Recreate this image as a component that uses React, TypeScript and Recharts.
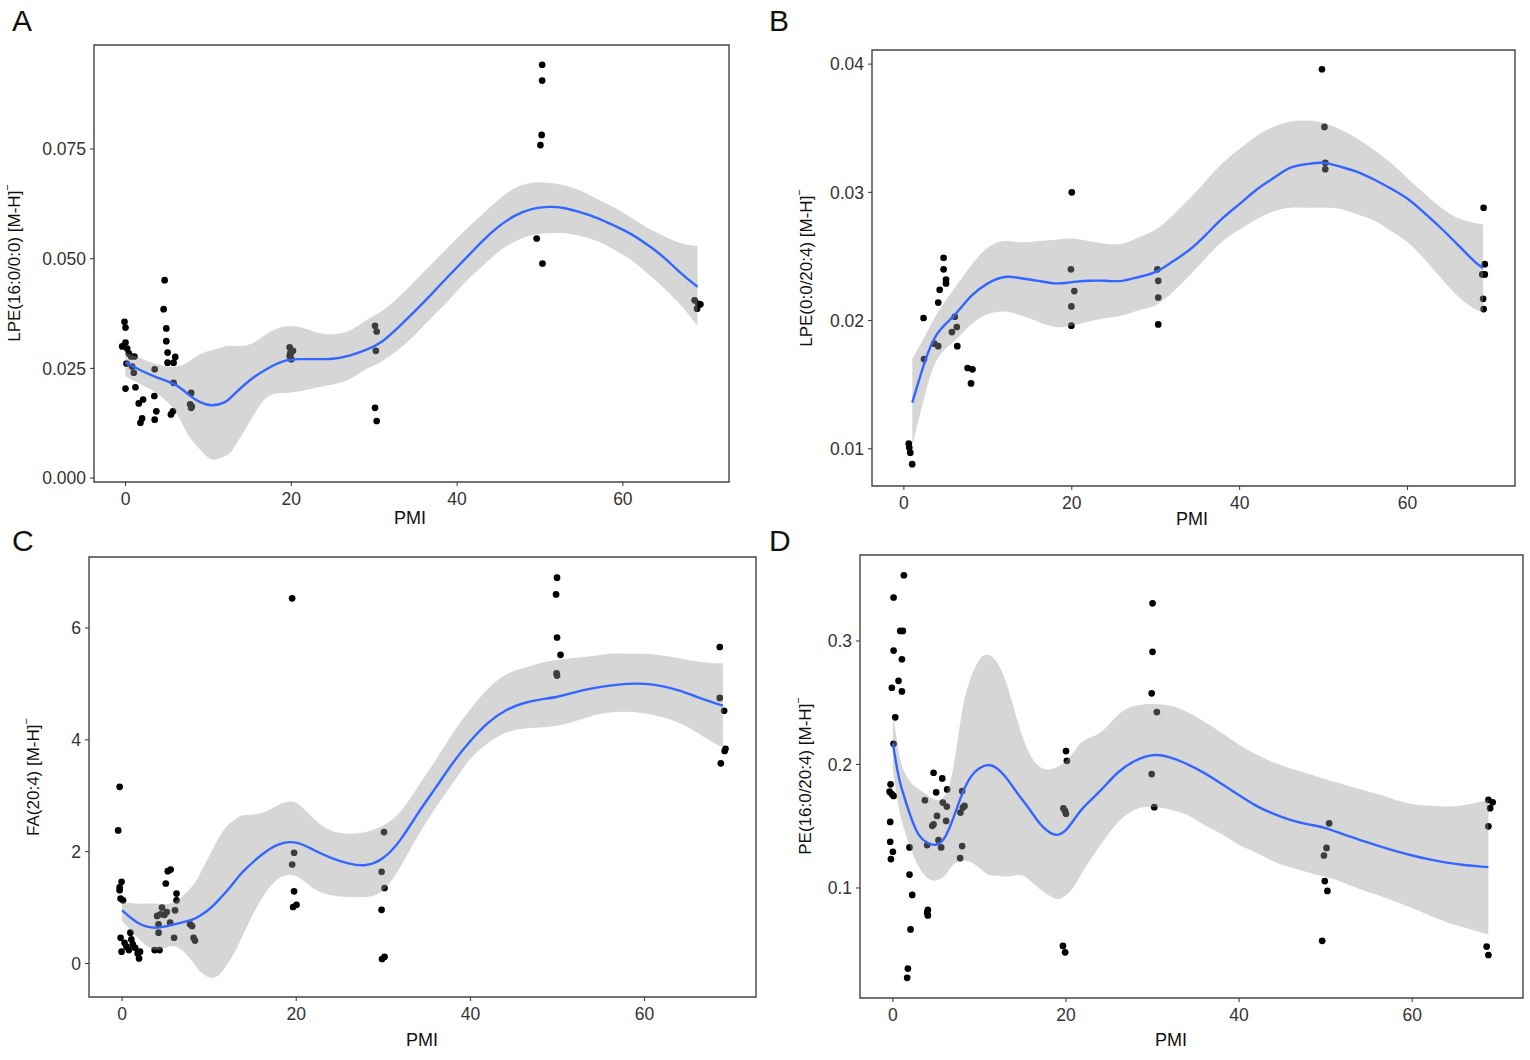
import React from 'react';
import { ComposedChart, Scatter, Area, Line, XAxis, YAxis, CartesianGrid, ReferenceArea } from 'recharts';

// ---------- shared x axis ----------
const X_DOMAIN: [number, number] = [-3.8, 72.8];
const X_TICKS = [0, 20, 40, 60];
const X_MINOR = [10, 30, 50, 70];

// ---------- Panel A : LPE(16:0/0:0) ----------
const aPoints: [number, number][] = [
  [-0.12, 0.0356], [0, 0.0343], [-0.4, 0.03], [0, 0.0309], [0.2, 0.0295], [0.4, 0.0284], [0.68, 0.0277],
  [1.08, 0.0277], [0.12, 0.0261], [0.8, 0.0254], [1.0, 0.024], [0, 0.0204], [1.2, 0.0207], [2.12, 0.0179],
  [1.6, 0.017], [2.0, 0.0136], [1.8, 0.0126], [3.52, 0.0248], [3.48, 0.0187], [3.72, 0.0152], [3.52, 0.0133],
  [4.72, 0.0451], [4.6, 0.0385], [4.92, 0.0341], [4.92, 0.0312], [5.08, 0.0286], [5.08, 0.0263], [5.8, 0.0263],
  [6.0, 0.0276], [5.8, 0.0217], [5.72, 0.0152], [5.48, 0.0145], [7.92, 0.0194], [7.8, 0.0168], [7.92, 0.016],
  [8.0, 0.0163],
  [19.8, 0.0298], [19.9, 0.0286], [20.2, 0.029], [19.8, 0.0278], [20.0, 0.0271], [19.9, 0.0283],
  [30.1, 0.0347], [30.3, 0.0334], [30.2, 0.029], [30.1, 0.016], [30.3, 0.013],
  [50.26, 0.0942], [50.26, 0.0906], [50.2, 0.0782], [50.05, 0.0759], [49.6, 0.0546], [50.3, 0.0489],
  [68.65, 0.0405], [69.1, 0.0397], [69.35, 0.0396], [68.95, 0.0386],
];
const aFitPmi = [0, 2, 4, 6, 7.5, 9, 10.5, 12, 13, 15, 17, 19, 21, 23, 25, 27, 29, 31, 33, 35, 37, 39, 41, 43, 45, 47, 49, 51, 53, 55, 57, 59, 61, 63, 65, 67, 69];
const aFit = [0.0264, 0.0244, 0.0228, 0.0213, 0.0192, 0.0173, 0.0166, 0.0173, 0.0189, 0.0223, 0.0248, 0.0266, 0.0271, 0.0271, 0.0272, 0.0279, 0.0292, 0.0312, 0.0345, 0.0382, 0.0421, 0.0461, 0.05, 0.0539, 0.0573, 0.0598, 0.0613, 0.0618, 0.0615, 0.0605, 0.0592, 0.0575, 0.0556, 0.0531, 0.0502, 0.0467, 0.0436];
const aLower = [0.0232, 0.0212, 0.019, 0.0152, 0.01, 0.0065, 0.0042, 0.005, 0.0067, 0.0129, 0.0183, 0.0194, 0.0198, 0.0206, 0.0213, 0.0225, 0.0248, 0.0267, 0.0294, 0.0328, 0.0367, 0.0405, 0.0447, 0.0482, 0.0516, 0.0539, 0.0554, 0.0558, 0.0558, 0.0551, 0.0539, 0.052, 0.0497, 0.0466, 0.0432, 0.0393, 0.0347];
const aUpper = [0.0286, 0.0272, 0.0258, 0.0254, 0.0264, 0.0282, 0.0292, 0.03, 0.0301, 0.0305, 0.0328, 0.0345, 0.0344, 0.0332, 0.0328, 0.0336, 0.0359, 0.0382, 0.0413, 0.0451, 0.0489, 0.0528, 0.0566, 0.06, 0.0635, 0.0661, 0.0673, 0.0673, 0.0667, 0.0654, 0.0635, 0.0616, 0.0593, 0.057, 0.0551, 0.0535, 0.0529];
const aYTicks = [0, 0.025, 0.05, 0.075];
const aYMinor = [0.0125, 0.0375, 0.0625, 0.0875];

// ---------- Panel B : LPE(0:0/20:4) ----------
const bPoints: [number, number][] = [
  [0.58, 0.0104], [0.64, 0.0101], [0.76, 0.0097], [0.99, 0.0088], [2.34, 0.0202], [2.39, 0.017],
  [3.62, 0.0182], [4.09, 0.018], [4.09, 0.0214], [4.26, 0.0224], [4.73, 0.0249], [4.73, 0.024],
  [5.02, 0.0232], [5.02, 0.0229], [5.72, 0.0191], [6.07, 0.0203], [6.3, 0.0195], [6.36, 0.018],
  [7.59, 0.0163], [8.17, 0.0162], [8.0, 0.0151],
  [20.0, 0.03], [19.9, 0.024], [20.3, 0.0223], [19.95, 0.0211], [19.95, 0.0196],
  [30.2, 0.024], [30.3, 0.0231], [30.3, 0.0218], [30.3, 0.0197],
  [49.8, 0.0396], [50.1, 0.0351], [50.2, 0.0323], [50.2, 0.0318],
  [69.06, 0.0288], [69.2, 0.0244], [69.2, 0.0236], [68.9, 0.0236], [69.0, 0.0217], [69.06, 0.0209],
];
const bFitPmi = [1, 2.5, 4, 6, 8, 10, 12, 14, 16, 18, 20, 22, 24, 26, 28, 30, 32, 34, 36, 38, 40, 42, 44, 46, 48, 50, 52, 54, 56, 58, 60, 62, 64, 66, 68, 69];
const bFit = [0.0136, 0.0168, 0.019, 0.0204, 0.0219, 0.0229, 0.0234, 0.0233, 0.0231, 0.0229, 0.023, 0.0231, 0.0231, 0.0231, 0.0234, 0.0238, 0.0246, 0.0255, 0.0267, 0.028, 0.0291, 0.0302, 0.0311, 0.0319, 0.0322, 0.0323, 0.032, 0.0316, 0.031, 0.0303, 0.0295, 0.0284, 0.0272, 0.0259, 0.0246, 0.0241];
const bLower = [0.0102, 0.0142, 0.017, 0.0184, 0.0197, 0.0205, 0.0207, 0.0204, 0.0199, 0.0195, 0.0196, 0.0199, 0.0202, 0.0204, 0.0208, 0.0212, 0.0222, 0.0235, 0.0249, 0.0262, 0.0271, 0.0279, 0.0285, 0.0288, 0.0288, 0.0288, 0.0287, 0.0283, 0.0278, 0.027, 0.0261, 0.0248, 0.0233, 0.0219, 0.0209, 0.0207];
const bUpper = [0.017, 0.0188, 0.0206, 0.0225, 0.0243, 0.0257, 0.0262, 0.0261, 0.0262, 0.0263, 0.0264, 0.0262, 0.026, 0.026, 0.0265, 0.0271, 0.0282, 0.0295, 0.0309, 0.0323, 0.0334, 0.0344, 0.0351, 0.0355, 0.0356, 0.0354, 0.0349, 0.0342, 0.0333, 0.0323, 0.0311, 0.0299, 0.0288, 0.028, 0.0276, 0.0275];
const bYTicks = [0.01, 0.02, 0.03, 0.04];
const bYMinor = [0.015, 0.025, 0.035];

// ---------- Panel C : FA(20:4) ----------
const cPoints: [number, number][] = [
  [-0.28, 3.16], [-0.45, 2.38], [-0.28, 1.36], [-0.28, 1.31], [-0.06, 1.46], [-0.17, 1.16], [0.11, 1.13],
  [-0.17, 0.46], [-0.06, 0.21], [0.28, 0.37], [0.5, 0.3], [0.78, 0.24], [0.95, 0.55], [1.06, 0.43],
  [1.23, 0.34], [1.5, 0.28], [1.79, 0.18], [1.95, 0.09], [2.06, 0.21],
  [3.74, 0.24], [4.3, 0.24], [4.02, 0.85], [4.41, 0.88], [4.58, 1.0], [4.19, 0.7], [4.19, 0.55],
  [4.86, 0.87], [5.13, 0.92], [5.02, 1.43], [5.25, 1.65], [5.58, 1.68], [5.52, 0.73], [5.97, 0.46],
  [6.08, 0.95], [6.25, 1.25], [6.25, 1.13],
  [7.81, 0.7], [8.04, 0.67], [8.21, 0.46], [8.37, 0.41],
  [19.53, 6.53], [19.75, 1.98], [19.53, 1.77], [19.75, 1.29], [19.64, 1.01], [20.03, 1.05],
  [30.08, 2.35], [29.8, 1.64], [30.14, 1.35], [29.8, 0.96], [29.85, 0.08], [30.14, 0.12],
  [49.95, 6.9], [49.84, 6.6], [49.95, 5.83], [50.35, 5.52], [49.9, 5.19], [49.95, 5.15],
  [68.64, 5.66], [68.64, 4.75], [69.14, 4.52], [69.3, 3.84], [69.2, 3.8], [68.76, 3.58],
];
const cFitPmi = [0, 2, 4, 6, 8, 9, 10, 11, 12, 13, 14, 16, 18, 20, 22, 24, 26, 28, 30, 32, 34, 36, 38, 40, 42, 44, 46, 48, 50, 52, 54, 56, 58, 60, 62, 64, 66, 68, 69];
const cFit = [0.95, 0.71, 0.64, 0.7, 0.78, 0.86, 0.97, 1.12, 1.29, 1.48, 1.66, 1.94, 2.13, 2.16, 2.03, 1.89, 1.79, 1.76, 1.89, 2.22, 2.69, 3.14, 3.59, 3.98, 4.3, 4.52, 4.65, 4.72, 4.77, 4.85, 4.92, 4.97, 5.0, 5.0, 4.96, 4.88, 4.77, 4.66, 4.61];
const cLower = [0.76, 0.43, 0.24, 0.31, 0.05, -0.15, -0.25, -0.22, -0.03, 0.22, 0.55, 1.15, 1.52, 1.56, 1.34, 1.22, 1.19, 1.19, 1.31, 1.74, 2.29, 2.78, 3.23, 3.66, 3.94, 4.12, 4.2, 4.22, 4.25, 4.33, 4.43, 4.49, 4.5, 4.47, 4.41, 4.3, 4.13, 3.94, 3.88];
const cUpper = [1.1, 1.07, 1.07, 1.1, 1.37, 1.62, 1.92, 2.22, 2.45, 2.58, 2.65, 2.69, 2.84, 2.87, 2.59, 2.38, 2.32, 2.35, 2.47, 2.72, 3.17, 3.63, 4.12, 4.55, 4.91, 5.16, 5.28, 5.37, 5.43, 5.47, 5.5, 5.54, 5.54, 5.54, 5.51, 5.46, 5.4, 5.37, 5.37];
const cYTicks = [0, 2, 4, 6];
const cYMinor = [1, 3, 5, 7];

// ---------- Panel D : PE(16:0/20:4) ----------
const dPoints: [number, number][] = [
  [1.27, 0.3532], [0.08, 0.3352], [0.85, 0.3081], [1.15, 0.3081], [0.08, 0.2922], [1.04, 0.2852],
  [0.65, 0.2677], [-0.12, 0.2621], [1.04, 0.2591], [0.27, 0.2382], [0.08, 0.2167], [-0.27, 0.1839],
  [-0.38, 0.178], [-0.12, 0.176], [0.08, 0.1745], [-0.31, 0.1535], [-0.31, 0.1374], [0, 0.1293], [-0.23, 0.1234],
  [1.92, 0.1328], [1.92, 0.1108], [2.23, 0.0944], [2.04, 0.0664], [1.73, 0.0347], [1.65, 0.0272],
  [4.04, 0.0823], [4.04, 0.0777], [3.96, 0.08], [3.7, 0.171], [3.96, 0.1347], [4.7, 0.1933], [5.0, 0.1774],
  [4.7, 0.1516], [4.55, 0.1503], [5.1, 0.1583], [5.27, 0.1387], [5.58, 0.1328], [5.7, 0.1887], [6.27, 0.1798],
  [5.77, 0.1691], [6.23, 0.1659], [6.15, 0.1543],
  [8.0, 0.1785], [8.27, 0.1664], [8.08, 0.1651], [7.8, 0.161], [8.0, 0.1339], [7.77, 0.1242],
  [20.0, 0.2108], [20.1, 0.2029], [19.7, 0.1645], [19.9, 0.1623], [20.0, 0.1601], [19.65, 0.0531], [19.9, 0.0479],
  [30.0, 0.3305], [30.0, 0.2912], [29.9, 0.2576], [30.5, 0.2424], [29.9, 0.1922], [30.2, 0.1654],
  [50.4, 0.1523], [50.1, 0.1324], [49.8, 0.1263], [49.9, 0.1056], [50.2, 0.0976], [49.6, 0.0572],
  [68.8, 0.1713], [69.3, 0.1694], [69.0, 0.1646], [68.8, 0.1499], [68.6, 0.0525], [68.8, 0.0457],
];
const dFitPmi = [0, 0.5, 1, 2, 3, 4, 5, 6, 7, 8, 9, 10, 11, 12, 13, 14, 15, 16, 17, 18, 19, 20, 21, 22, 24, 26, 28, 30, 32, 34, 36, 38, 40, 42, 44, 46, 48, 50, 52, 54, 56, 58, 60, 62, 64, 66, 68, 68.8];
const dFit = [0.217, 0.196, 0.181, 0.159, 0.143, 0.1365, 0.135, 0.141, 0.157, 0.176, 0.19, 0.197, 0.1995, 0.197, 0.19, 0.1805, 0.171, 0.1615, 0.152, 0.1455, 0.143, 0.147, 0.156, 0.165, 0.179, 0.1935, 0.203, 0.2075, 0.2058, 0.2003, 0.193, 0.1842, 0.175, 0.1665, 0.16, 0.155, 0.1515, 0.1485, 0.1435, 0.1388, 0.1342, 0.13, 0.1263, 0.1231, 0.1205, 0.1186, 0.1173, 0.1169];
const dLower = [0.195, 0.172, 0.155, 0.133, 0.117, 0.108, 0.106, 0.11, 0.119, 0.122, 0.121, 0.116, 0.111, 0.11, 0.109, 0.11, 0.11, 0.105, 0.099, 0.094, 0.091, 0.094, 0.102, 0.114, 0.135, 0.153, 0.1635, 0.1655, 0.1635, 0.159, 0.151, 0.1435, 0.135, 0.1285, 0.1215, 0.1165, 0.1125, 0.109, 0.1045, 0.099, 0.0943, 0.089, 0.0835, 0.0777, 0.0722, 0.068, 0.064, 0.0627];
const dUpper = [0.24, 0.218, 0.2, 0.186, 0.18, 0.175, 0.171, 0.175, 0.198, 0.243, 0.27, 0.285, 0.2887, 0.283, 0.268, 0.245, 0.222, 0.206, 0.198, 0.196, 0.198, 0.203, 0.211, 0.219, 0.226, 0.24, 0.2475, 0.249, 0.2475, 0.2425, 0.2345, 0.2255, 0.216, 0.208, 0.2015, 0.1965, 0.1925, 0.188, 0.184, 0.18, 0.176, 0.1715, 0.168, 0.1665, 0.166, 0.167, 0.17, 0.1713];
const dYTicks = [0.1, 0.2, 0.3];
const dYMinor = [0.05, 0.15, 0.25, 0.35];

// ---------- helpers ----------
const FONT = '"Liberation Sans", Arial, Helvetica, sans-serif';

const toPoints = (pairs: [number, number][]) => pairs.map(([x, y]) => ({ x, y }));
const toSmooth = (xs: number[], fit: number[], lo: number[], hi: number[]) =>
  xs.map((x, i) => ({ x, fit: fit[i], band: [lo[i], hi[i]] }));

const renderDot = (props: any) => {
  const { cx, cy } = props;
  if (cx == null || cy == null) return <g />;
  return <circle cx={cx} cy={cy} r={3.35} fill="#000" />;
};

type Box = { left: number; top: number; w: number; h: number };
type Frame = { left: number; top: number; right: number; bottom: number };

function Panel(props: {
  box: Box; frame: Frame; yDomain: [number, number]; yTicks: number[]; yMinor: number[];
  fmt: (v: number) => string; points: { x: number; y: number }[]; smooth: any[];
}) {
  const { box, frame, yDomain, yTicks, yMinor, fmt, points, smooth } = props;
  const margin = { top: frame.top - box.top, right: box.left + box.w - frame.right, left: 0, bottom: 0 };
  const yAxisWidth = frame.left - box.left;
  const xAxisHeight = box.top + box.h - frame.bottom;
  const tickStyle = { fill: '#333333', fontSize: 17.5, fontFamily: FONT };
  const pos: React.CSSProperties = { position: 'absolute', left: box.left, top: box.top };
  return (
    <>
      {/* bottom layer: grid and points */}
      <div style={pos}>
        <ComposedChart width={box.w} height={box.h} data={smooth} margin={margin}>
          <CartesianGrid horizontalValues={yMinor} verticalValues={X_MINOR} stroke="#f1f1f1" strokeWidth={1} />
          <CartesianGrid horizontalValues={yTicks} verticalValues={X_TICKS} stroke="#e6e6e6" strokeWidth={1.4} />
          <XAxis type="number" dataKey="x" domain={X_DOMAIN} ticks={X_TICKS} allowDataOverflow interval={0}
            height={xAxisHeight} axisLine={false} tickLine={false} tick={false} />
          <YAxis type="number" domain={yDomain} ticks={yTicks} allowDataOverflow interval={0}
            width={yAxisWidth} axisLine={false} tickLine={false} tick={false} />
          <Scatter data={points} dataKey="y" shape={renderDot} isAnimationActive={false} />
        </ComposedChart>
      </div>
      {/* top layer: confidence band, smooth, frame, axes */}
      <div style={pos}>
        <ComposedChart width={box.w} height={box.h} data={smooth} margin={margin}>
          <XAxis type="number" dataKey="x" domain={X_DOMAIN} ticks={X_TICKS} allowDataOverflow interval={0}
            height={xAxisHeight} axisLine={false} tickLine={{ stroke: '#333' }} tickSize={4} tickMargin={7} tick={tickStyle} />
          <YAxis type="number" domain={yDomain} ticks={yTicks} allowDataOverflow interval={0}
            width={yAxisWidth} axisLine={false} tickLine={{ stroke: '#333' }} tickSize={4} tickMargin={4} tick={tickStyle}
            tickFormatter={fmt} />
          <Area dataKey="band" type="natural" fill="#999999" fillOpacity={0.4} stroke="none" isAnimationActive={false} />
          <Line dataKey="fit" type="natural" stroke="#3366FF" strokeWidth={2.4} dot={false} isAnimationActive={false} />
          <ReferenceArea x1={X_DOMAIN[0]} x2={X_DOMAIN[1]} y1={yDomain[0]} y2={yDomain[1]}
            fill="none" fillOpacity={0} stroke="#444" strokeWidth={1.4} />
        </ComposedChart>
      </div>
    </>
  );
}

function YTitle({ x, y, text }: { x: number; y: number; text: string }) {
  return (
    <text transform={`translate(${x},${y}) rotate(-90)`} textAnchor="middle" dominantBaseline="central"
      fontSize={17} fontFamily={FONT} fill="#111">
      {text}
      <tspan fontSize={11} dy={-7}>−</tspan>
    </text>
  );
}

export default function App() {
  return (
    <div style={{ position: 'absolute', left: 0, top: 0, width: 1530, height: 1060, background: '#fff', fontFamily: FONT }}>
      <Panel box={{ left: 0, top: 0, w: 760, h: 530 }} frame={{ left: 94, top: 45, right: 729, bottom: 482 }}
        yDomain={[-0.0009, 0.0987]} yTicks={aYTicks} yMinor={aYMinor} fmt={(v) => v.toFixed(3)}
        points={toPoints(aPoints)} smooth={toSmooth(aFitPmi, aFit, aLower, aUpper)} />
      <Panel box={{ left: 765, top: 0, w: 765, h: 530 }} frame={{ left: 872, top: 50, right: 1515, bottom: 486 }}
        yDomain={[0.0071, 0.0411]} yTicks={bYTicks} yMinor={bYMinor} fmt={(v) => v.toFixed(2)}
        points={toPoints(bPoints)} smooth={toSmooth(bFitPmi, bFit, bLower, bUpper)} />
      <Panel box={{ left: 0, top: 530, w: 770, h: 530 }} frame={{ left: 89, top: 557, right: 756, bottom: 997 }}
        yDomain={[-0.6, 7.27]} yTicks={cYTicks} yMinor={cYMinor} fmt={(v) => String(v)}
        points={toPoints(cPoints)} smooth={toSmooth(cFitPmi, cFit, cLower, cUpper)} />
      <Panel box={{ left: 770, top: 530, w: 760, h: 530 }} frame={{ left: 860, top: 555, right: 1523, bottom: 998 }}
        yDomain={[0.0109, 0.3696]} yTicks={dYTicks} yMinor={dYMinor} fmt={(v) => v.toFixed(1)}
        points={toPoints(dPoints)} smooth={toSmooth(dFitPmi, dFit, dLower, dUpper)} />

      <svg width={1530} height={1060} style={{ position: 'absolute', left: 0, top: 0, pointerEvents: 'none' }}>
        <text x={12} y={31} fontSize={30} fontFamily={FONT} fill="#111">A</text>
        <text x={769} y={31} fontSize={30} fontFamily={FONT} fill="#111">B</text>
        <text x={12} y={551} fontSize={30} fontFamily={FONT} fill="#111">C</text>
        <text x={769} y={551} fontSize={30} fontFamily={FONT} fill="#111">D</text>

        <text x={410} y={518} textAnchor="middle" dominantBaseline="central" fontSize={18} fontFamily={FONT} fill="#111">PMI</text>
        <text x={1192} y={519} textAnchor="middle" dominantBaseline="central" fontSize={18} fontFamily={FONT} fill="#111">PMI</text>
        <text x={422} y={1040} textAnchor="middle" dominantBaseline="central" fontSize={18} fontFamily={FONT} fill="#111">PMI</text>
        <text x={1171} y={1040} textAnchor="middle" dominantBaseline="central" fontSize={18} fontFamily={FONT} fill="#111">PMI</text>

        <YTitle x={14} y={263} text="LPE(16:0/0:0) [M-H]" />
        <YTitle x={806} y={268} text="LPE(0:0/20:4) [M-H]" />
        <YTitle x={33} y={777} text="FA(20:4) [M-H]" />
        <YTitle x={805} y={776} text="PE(16:0/20:4) [M-H]" />
      </svg>
    </div>
  );
}
